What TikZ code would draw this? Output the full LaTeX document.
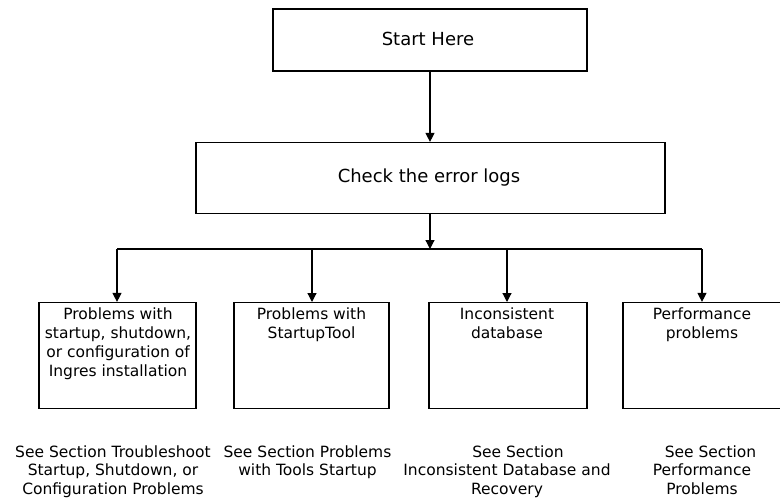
\documentclass[tikz,border=0pt]{standalone}
\usepackage{fontspec}
\setmainfont{DejaVu Sans}
\usetikzlibrary{arrows.meta}

\tikzset{
  flowbox/.style={draw=black, line width=1.2pt, rectangle, inner sep=0pt, fill=none},
  boxtext/.style={anchor=north, inner sep=0pt, align=center,
                  font=\fontsize{15.5}{19}\selectfont},
  notetext/.style={anchor=north, inner sep=0pt, align=center,
                   font=\fontsize{15.5}{18.3}\selectfont},
  bigtext/.style={font=\fontsize{18}{22}\selectfont},
  link/.style={line width=1.2pt, draw=black},
  arrowlink/.style={link, -{Triangle[width=9pt,length=9pt]}}
}

\begin{document}
\begin{tikzpicture}[x=1pt, y=-1pt]
  \useasboundingbox (0,0) rectangle (780,498);

  % top of the flow
  \node[flowbox, minimum width=314pt, minimum height=62pt] (start) at (430,40) {};
  \node[bigtext] (starttext) at (428,39) {Start Here};

  \node[flowbox, minimum width=469pt, minimum height=71pt] (check) at (430.5,178) {};
  \node[bigtext] (checktext) at (429,178) {Check the error logs};

  % problem categories
  \node[flowbox, minimum width=157pt, minimum height=106pt] (b1) at (117.5,355.5) {};
  \node[flowbox, minimum width=155pt, minimum height=106pt] (b2) at (311.5,355.5) {};
  \node[flowbox, minimum width=158pt, minimum height=106pt] (b3) at (508,355.5) {};
  \node[flowbox, minimum width=158pt, minimum height=106pt] (b4) at (702,355.5) {};

  \node[boxtext] (t1) at (118,308) {Problems with\\startup, shutdown,\\or configuration of\\Ingres installation};
  \node[boxtext] (t2) at (311.5,308) {Problems with\\StartupTool};
  \node[boxtext] (t3) at (507,308) {Inconsistent\\database};
  \node[boxtext] (t4) at (702,308) {Performance\\problems};

  % references below each category
  \node[notetext] (n1) at (113,445.5) {See Section Troubleshoot\\Startup, Shutdown, or\\Configuration Problems};
  \node[notetext] (n2) at (307.5,445.5) {See Section Problems\\with Tools Startup};
  \node[notetext] (n3) at (507,445.5) {\hspace*{22pt}See Section\\Inconsistent Database and\\Recovery};
  \node[notetext] (n4) at (702,445.5) {\hspace*{17pt}See Section\\Performance\\Problems};

  % connectors
  \coordinate (split) at (430,249);
  \coordinate (lend) at (117,249);
  \coordinate (rend) at (702,249);

  \draw[arrowlink] (start.south) -- (start.south |- check.north);
  \draw[arrowlink] (check.south -| split) -- (split);
  \draw[link] (lend) -- (rend);
  \draw[arrowlink] (lend) -- (lend |- b1.north);
  \draw[arrowlink] (312,249) -- (312,302);
  \draw[arrowlink] (507,249) -- (507,302);
  \draw[arrowlink] (rend) -- (rend |- b4.north);
\end{tikzpicture}
\end{document}
